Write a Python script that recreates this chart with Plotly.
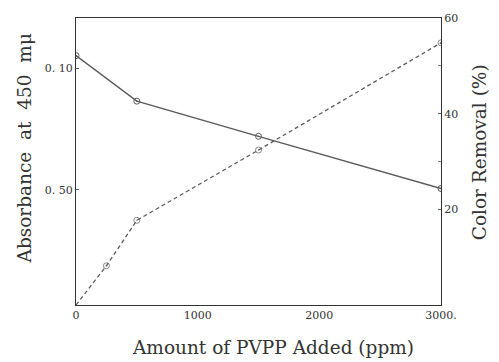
import plotly.graph_objects as go

# Data
pvpp_abs = [0, 500, 1500, 3000]
absorbance = [0.721, 0.646, 0.588, 0.502]

pvpp_cr = [0, 250, 500, 1500, 3000]
color_removal = [0, 8.2, 17.7, 32.4, 54.8]

x_ticks = [0, 1000, 2000, 3000]
x_ticktext = ["0", "1000", "2000", "3000."]
left_tickvals = [0.70, 0.50]
left_ticktext = ["0. 10", "0. 50"]
right_tickvals = [20, 40, 60]

LINE = "#5a5a5a"
FONT = "DejaVu Serif"

fig = go.Figure()
fig.add_trace(go.Scatter(
    x=pvpp_abs, y=absorbance, mode="lines+markers",
    line=dict(color=LINE, width=1.4),
    marker=dict(symbol="circle-open-dot", size=6, color=LINE, line=dict(width=1)),
    yaxis="y", showlegend=False))
fig.add_trace(go.Scatter(
    x=pvpp_cr, y=color_removal, mode="lines+markers",
    line=dict(color=LINE, width=1.3, dash="4px,3px"),
    marker=dict(symbol="circle-open-dot", size=[0, 6, 6, 6, 6], color=LINE, line=dict(width=1)),
    yaxis="y2", showlegend=False))

fig.update_layout(
    width=499, height=362,
    margin=dict(l=76, r=58, t=12, b=57),
    paper_bgcolor="white", plot_bgcolor="white",
    font=dict(family=FONT, color="#333333"),
    xaxis=dict(range=[0, 3000], tickvals=x_ticks, ticktext=x_ticktext,
               showgrid=False, zeroline=False, showline=True, linecolor="#333333",
               linewidth=1.2, mirror=True, ticks="", tickfont=dict(size=11)),
    yaxis=dict(range=[0.31, 0.783], tickvals=left_tickvals, ticktext=left_ticktext,
               showgrid=False, zeroline=False, showline=True, linecolor="#333333",
               linewidth=1.2, ticks="inside", ticklen=3, tickcolor="#666666",
               tickfont=dict(size=11)),
    yaxis2=dict(range=[0, 60], overlaying="y", side="right", tickvals=right_tickvals,
                showgrid=False, zeroline=False, showline=True, linecolor="#333333",
                linewidth=1.2, ticks="inside", ticklen=3, tickcolor="#666666",
                tickfont=dict(size=11),
                minor=dict(tickvals=[30, 50], ticks="inside", ticklen=3, tickcolor="#888888")),
    annotations=[
        dict(text="Amount of PVPP Added (ppm)", xref="paper", yref="paper",
             x=0.540, y=-0.147, xanchor="center", yanchor="middle",
             showarrow=False, font=dict(size=18.5)),
        dict(text="Absorbance  at  450  mμ", xref="paper", yref="paper",
             x=-0.142, y=0.546, xanchor="center", yanchor="middle", textangle=-90,
             showarrow=False, font=dict(size=18.5)),
        dict(text="Color Removal (%)", xref="paper", yref="paper",
             x=1.104, y=0.532, xanchor="center", yanchor="middle", textangle=-90,
             showarrow=False, font=dict(size=18.5)),
    ],
)

fig.write_html("out.html")
